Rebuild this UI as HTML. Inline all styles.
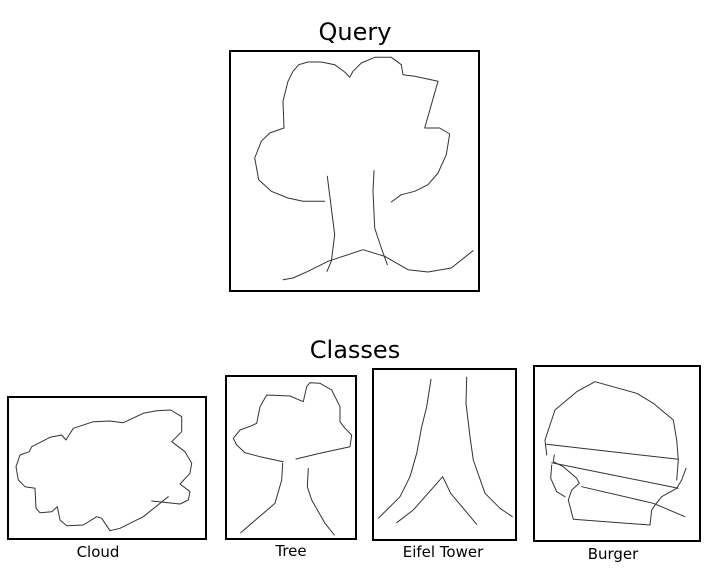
<!DOCTYPE html>
<html><head><meta charset="utf-8"><style>
html,body{margin:0;padding:0;background:#fff;}
svg{display:block;}
text{font-family:"DejaVu Sans","Liberation Sans",sans-serif;fill:#000;}
.s{fill:none;stroke:#333;stroke-width:1;stroke-linejoin:round;stroke-linecap:round;}
.b{fill:none;stroke:#000;stroke-width:2;}
</style></head><body>
<svg width="713" height="582" viewBox="0 0 713 582">
<text x="355" y="40" font-size="24" text-anchor="middle">Query</text>
<g>
<rect class="b" x="230" y="51" width="249" height="240"/>
<polyline class="s" points="324.7,201.3 303,201.3 288,198 271.3,191.3 258.7,179.7 254.7,158 261.3,141.3 269.7,133 284,128 283,101.3 288,81.3 293,71.3 298.7,64.7 308,62 321.3,62 334.7,64.7 344.7,72 349.7,77.3 353,71.3 361.3,63 374.7,57.3 391.3,57.3 401.3,64.7 403,74.7 414.7,76.3 438,81.3 424.7,128 439.7,128 449.7,134 446.3,154.7 438,173 428,184.7 414.7,191.3 401.3,194.7 391.3,202"/>
<polyline class="s" points="327.3,176.3 331.3,208 334.7,234.7 331.3,261.3 327,271.3"/>
<polyline class="s" points="374,170.7 373,191.3 374.7,228 381.3,248 387.3,264.7"/>
<polyline class="s" points="283,279.7 293,278 308,271.3 328,261.3 363,249.7 384.7,256.3 408,269.7 428,272 451.3,268 473,250.7"/>
</g>
<text x="355" y="358" font-size="24" text-anchor="middle">Classes</text>
<g>
<rect class="b" x="8" y="397" width="198" height="142"/>
<polyline class="s" points="151.7,501 180,504 188.3,500 190,491.7 180,484 190,473.3 191.7,463.3 185,451.7 171.7,441.7 181.7,431.7 181.7,416.7 170.7,410 156.7,410.7 143.3,413.3 123.3,422.7 110,421 93.3,421.7 73.3,428.3 66,440 61.7,435 50,437.3 31.7,446.7 29.3,451.7 20,455 16,466.7 18.3,480 25,486.7 35,488.3 36,508.3 40,512.7 51.7,511.7 57.3,506.7 60,520 66.7,525.7 83.3,525 96.7,516.7 101.7,518.3 110,530.7 120,528.3 143.3,516.7 168.3,496.7"/>
<text x="98" y="557" font-size="15" text-anchor="middle">Cloud</text>
</g>
<g>
<rect class="b" x="226" y="376" width="130" height="163"/>
<polyline class="s" points="283.3,461.7 260,456.7 245,452.7 236.7,445 233.3,438.3 240,430 251.7,425.7 256.7,423.3 260,406.7 266.7,395 290,396 303.3,401.7 306.7,386.7 310,382.7 320,383.3 331.7,390 340,406.7 340,421.7 345,428.3 351.7,435 350,446.7 320,453.3 296,459"/>
<polyline class="s" points="282.7,463.3 281.7,480 275,503.3 240.7,532.7"/>
<polyline class="s" points="308.3,468.3 307.3,486.7 311.7,500 325,523.3 334.3,535"/>
<text x="291" y="556" font-size="15" text-anchor="middle">Tree</text>
</g>
<g>
<rect class="b" x="373" y="369" width="143" height="171"/>
<polyline class="s" points="431,379.3 426.7,406.7 421.7,426.7 416.7,453.3 410,476.7 400,496.7 386.7,510 378.3,518.3"/>
<polyline class="s" points="466.7,377.3 466,403.3 470,436.7 473.3,460 485,493.3 500,508.3 512.3,516.7"/>
<polyline class="s" points="396.7,522.7 413.3,510 442.7,476.7 450.7,493.3 476.7,524.3"/>
<text x="443" y="557" font-size="15" text-anchor="middle">Eifel Tower</text>
</g>
<g>
<rect class="b" x="534" y="366" width="166" height="175"/>
<polyline class="s" points="546.7,455 545,440 555,410 576.7,391.7 595,381.7 636.7,393.3 653.3,403.3 673.3,420 676.7,440 678.3,460 676.7,480"/>
<polyline class="s" points="546.7,444.3 678.3,459.3"/>
<polyline class="s" points="551.7,462.7 678.3,488.3"/>
<polyline class="s" points="686,468.3 681.7,480 676.7,488.3 661.7,496.7 655,505 651.7,510 650,525 573.3,519.3 568.3,500 571.7,490 579.3,483.3 576.7,478.3 563.3,466.7 553.3,461.7 554.3,455"/>
<polyline class="s" points="551.7,465 550.7,478.3 556.7,491.7 565,496.7"/>
<polyline class="s" points="581.7,486.7 653.3,503.3 685,516.7"/>
<text x="613" y="559" font-size="15" text-anchor="middle">Burger</text>
</g>
</svg>
</body></html>
